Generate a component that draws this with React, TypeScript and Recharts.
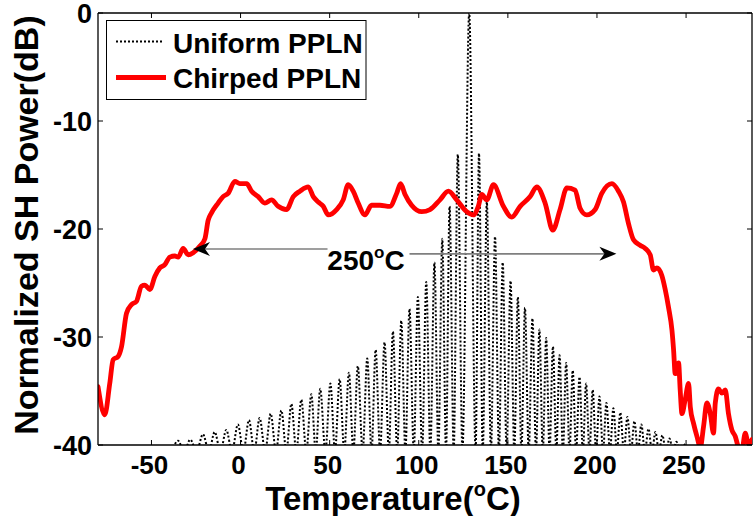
import React from "react";
import { LineChart, Line, XAxis, YAxis, ReferenceLine, ReferenceDot } from "recharts";

const FONT = '"Liberation Sans", Arial, Helvetica, sans-serif';

// plot frame (pixels) – MATLAB style axes box
const W = 753;
const H = 516;
const PLOT_LEFT = 98;
const PLOT_TOP = 13;
const PLOT_RIGHT = 752;
const PLOT_BOTTOM = 445;

const X_DOMAIN = [-80, 287];
const Y_DOMAIN = [-40, 0];
const X_TICKS = [-50, 0, 50, 100, 150, 200, 250];
const Y_TICKS = [-40, -30, -20, -10, 0];

// Uniform PPLN: sinc^2-like lobes, peaks
const UNIFORM_PEAK_T = [
  -35.1, -28.2, -21.1, -14.5, -8.0, -1.5, 4.7, 10.7, 16.9, 22.9, 28.5, 34.1, 39.7, 44.7, 50.4,
  55.6, 60.8, 65.8, 71.1, 75.8, 80.8, 85.5, 90.2, 94.8, 99.5, 104.2, 108.8, 113.2, 117.3, 121.9,
  128.3,
  133.8, 138.2, 142.8, 147.1, 151.5, 155.6, 159.6, 163.8, 167.7, 171.5, 175.3, 179.0, 182.7, 186.4,
  190.2, 193.9, 197.6, 201.4, 205.3, 209.2, 213.1, 217.1, 221.0, 224.9, 228.9, 232.8, 236.7, 240.7,
  244.6, 248.5,
];
const UNIFORM_PEAK_DB = [
  -39.6, -39.5, -39.0, -38.8, -38.6, -38.1, -37.7, -37.5, -37.1, -36.8, -36.2, -35.8, -35.3, -34.8, -34.3,
  -33.9, -33.3, -32.7, -32.0, -31.2, -30.5, -29.5, -28.5, -27.4, -26.3, -24.9, -23.1, -20.9, -17.9, -13.1,
  0,
  -13.0, -17.5, -20.7, -23.1, -24.8, -26.3, -27.3, -28.3, -29.3, -30.1, -30.9, -31.7, -32.4, -33.1,
  -33.7, -34.3, -34.9, -35.5, -36.1, -36.6, -37.0, -37.4, -37.8, -38.1, -38.5, -38.8, -39.1, -39.4,
  -39.7, -39.9,
];
// nulls between the lobes (they fall below the -40 dB floor)
const UNIFORM_NULL_T = [
  -38.5, -31.7, -24.7, -17.8, -11.3, -4.8, 1.6, 7.7, 13.8, 19.9, 25.7, 31.3, 36.9, 42.2, 47.6,
  53.0, 58.2, 63.3, 68.5, 73.5, 78.3, 83.2, 87.9, 92.5, 97.2, 101.9, 106.5, 111.0, 115.3, 119.6,
  124.5, 131.9,
  135.9, 140.5, 145.0, 149.3, 153.6, 157.6, 161.7, 165.8, 169.6, 173.4, 177.2, 180.9, 184.6, 188.3,
  192.1, 195.8, 199.5, 203.4, 207.3, 211.2, 215.1, 219.1, 223.0, 226.9, 230.9, 234.8, 238.7, 242.7,
  246.6, 250.5,
];
const UNIFORM_NULL_DB = -40.6;

// Chirped PPLN
const CHIRPED_T = [
  -80, -76.2, -73.4, -71.5, -68.7, -66.8, -64.0, -61.2, -58.4, -55.6, -53.7, -50.9, -48.1, -45.3, -42.5,
  -39.7, -36.9, -35.0, -32.2, -29.4, -26.6, -22.9, -20.0, -18.2, -16.3, -12.6, -9.8, -7.0, -3.2, -0.4,
  3.4, 6.2, 9.9, 13.6, 17.4, 21.1, 25.8, 29.6, 33.3, 38.0, 40.8, 43.6, 46.4, 49.2, 53.9,
  57.6, 60.4, 63.2, 66.0, 69.8, 73.5, 78.2, 83.8, 87.6, 89.8, 92.3, 96.0, 101.7, 106.3, 111.9,
  116.6, 121.3, 126.9, 130.6, 133.4, 135.4, 138.2, 141.9, 147.5, 152.2, 156.9, 162.5, 166.2, 170.9, 175.2,
  179.3, 183.1, 187.7, 190.6, 194.3, 199.0, 202.7, 208.4, 212.1, 214.9, 217.7, 220.5, 224.2, 227.1, 229.9,
  231.7, 233.6, 236.4, 238.3, 240.1, 242.1, 243.0, 243.9, 245.8, 246.7, 247.7, 249.5, 251.4, 252.4, 254.2,
  256.1, 258.0, 259.8, 261.7, 263.6, 265.4, 266.4, 268.2, 270.1, 272.0, 273.8, 275.7, 277.6, 279.4, 281.3,
  283.2, 285.0, 287.0,
];
const CHIRPED_DB = [
  -34.6, -37.2, -34.3, -32.1, -31.8, -30.9, -27.8, -27.0, -26.7, -25.3, -25.2, -25.6, -24.4, -23.6, -23.3,
  -22.6, -22.5, -22.6, -21.8, -22.4, -22.2, -21.6, -20.9, -19.2, -18.5, -17.6, -17.0, -16.7, -15.6, -15.8,
  -15.8, -16.5, -17.0, -17.6, -17.3, -17.9, -18.2, -17.0, -16.5, -16.1, -17.0, -17.5, -17.9, -18.7, -18.2,
  -17.3, -15.9, -16.5, -17.6, -18.7, -17.8, -17.8, -17.9, -16.7, -15.8, -16.8, -17.8, -18.4, -18.2, -17.3,
  -16.5, -17.3, -18.4, -18.7, -17.9, -16.8, -17.3, -15.9, -17.9, -18.9, -17.9, -17.0, -16.1, -17.6, -20.1,
  -18.2, -16.2, -16.4, -18.1, -18.7, -18.2, -16.7, -15.8, -16.5, -17.5, -19.5, -21.0, -21.5, -21.8, -22.4,
  -23.8, -23.6, -24.3, -25.6, -27.2, -29.4, -31.2, -33.4, -32.4, -34.9, -37.1, -35.8, -34.3, -36.5, -38.0,
  -39.2, -40.2, -38.3, -36.1, -37.1, -38.9, -36.1, -34.8, -35.2, -34.9, -37.1, -38.6, -39.2, -40.2, -40.5,
  -38.9, -39.9, -39.5,
];

// 250 degC bandwidth annotation (data coords)
const ARROW_LEFT = { from: 48.8, to: -26.7, db: -21.85 };
const ARROW_RIGHT = { from: 94.8, to: 210.9, db: -22.3 };
const BW_LABEL = { t: 70.4, db: -22.9 };

const uniformData: { t: number; db: number }[] = [];
UNIFORM_PEAK_T.forEach((t, i) => {
  uniformData.push({ t: UNIFORM_NULL_T[i], db: UNIFORM_NULL_DB });
  uniformData.push({ t, db: UNIFORM_PEAK_DB[i] });
});
uniformData.push({ t: UNIFORM_NULL_T[UNIFORM_NULL_T.length - 1], db: UNIFORM_NULL_DB });

const chirpedData = CHIRPED_T.map((t, i) => ({ t, db: CHIRPED_DB[i] }));

const tickText = { fontFamily: FONT, fontWeight: 700, fontSize: 26, fill: "#000" };

function XTick({ x, payload }: any) {
  return (
    <g>
      <line x1={x} x2={x} y1={PLOT_BOTTOM} y2={PLOT_BOTTOM - 5} stroke="#000" strokeWidth={1} />
      <line x1={x} x2={x} y1={PLOT_TOP} y2={PLOT_TOP + 5} stroke="#000" strokeWidth={1} />
      <text x={x - 2} y={PLOT_BOTTOM + 29} textAnchor="middle" {...tickText}>
        {payload.value}
      </text>
    </g>
  );
}

function YTick({ y, payload }: any) {
  return (
    <g>
      <line x1={PLOT_LEFT} x2={PLOT_LEFT + 5} y1={y} y2={y} stroke="#000" strokeWidth={1} />
      <line x1={PLOT_RIGHT} x2={PLOT_RIGHT - 5} y1={y} y2={y} stroke="#000" strokeWidth={1} />
      <text x={PLOT_LEFT - 6} y={y + 10} textAnchor="end" {...tickText} fontSize={27}>
        {payload.value}
      </text>
    </g>
  );
}

function Arrow({ x1, y1, x2, y2 }: any) {
  const dir = x2 > x1 ? 1 : -1;
  const len = 17;
  const half = 7;
  const notch = 12;
  return (
    <g>
      <line x1={x1} y1={y1} x2={x2 - dir * notch} y2={y2} stroke="#7f7f7f" strokeWidth={1.6} />
      <polygon
        points={`${x2},${y2} ${x2 - dir * len},${y2 - half} ${x2 - dir * notch},${y2} ${x2 - dir * len},${y2 + half}`}
        fill="#000"
      />
    </g>
  );
}

function BandLabel({ cx, cy }: any) {
  return (
    <text x={cx} y={cy + 10} textAnchor="middle" fontFamily={FONT} fontWeight={700} fontSize={28} fill="#000">
      250
      <tspan dy={-12} fontSize={17}>o</tspan>
      <tspan dy={12}>C</tspan>
    </text>
  );
}

export default function App() {
  return (
    <div style={{ position: "absolute", left: 0, top: 0, width: W, height: H, background: "#fff" }}>
      <LineChart
        width={W}
        height={H}
        margin={{ top: PLOT_TOP, right: W - PLOT_RIGHT, bottom: 0, left: 0 }}
      >
        <XAxis
          type="number"
          dataKey="t"
          domain={X_DOMAIN}
          allowDataOverflow
          ticks={X_TICKS}
          interval={0}
          height={H - PLOT_BOTTOM}
          tickLine={false}
          axisLine={{ stroke: "#000", strokeWidth: 1.3 }}
          tick={<XTick />}
        />
        <YAxis
          type="number"
          domain={Y_DOMAIN}
          allowDataOverflow
          ticks={Y_TICKS}
          interval={0}
          width={PLOT_LEFT}
          tickLine={false}
          axisLine={{ stroke: "#000", strokeWidth: 1.3 }}
          tick={<YTick />}
        />
        <ReferenceLine y={0} stroke="#000" strokeWidth={1.3} />
        <ReferenceLine x={X_DOMAIN[1]} stroke="#000" strokeWidth={1.3} />
        <Line
          data={uniformData}
          dataKey="db"
          type="monotone"
          stroke="#000"
          strokeWidth={2}
          strokeDasharray="2 2"
          dot={false}
          activeDot={false}
          isAnimationActive={false}
        />
        <Line
          data={chirpedData}
          dataKey="db"
          type="monotone"
          stroke="#ff0000"
          strokeWidth={4.8}
          strokeLinejoin="round"
          strokeLinecap="round"
          dot={false}
          activeDot={false}
          isAnimationActive={false}
        />
        <ReferenceLine
          segment={[
            { x: ARROW_LEFT.from, y: ARROW_LEFT.db },
            { x: ARROW_LEFT.to, y: ARROW_LEFT.db },
          ]}
          shape={<Arrow />}
        />
        <ReferenceLine
          segment={[
            { x: ARROW_RIGHT.from, y: ARROW_RIGHT.db },
            { x: ARROW_RIGHT.to, y: ARROW_RIGHT.db },
          ]}
          shape={<Arrow />}
        />
        <ReferenceDot x={BW_LABEL.t} y={BW_LABEL.db} r={0} shape={<BandLabel />} />
      </LineChart>

      {/* titles and legend */}
      <svg
        width={W}
        height={H}
        style={{ position: "absolute", left: 0, top: 0, pointerEvents: "none" }}
      >
        <text
          x={393}
          y={510}
          textAnchor="middle"
          fontFamily={FONT}
          fontWeight={700}
          fontSize={33}
          fill="#000"
        >
          Temperature(
          <tspan dy={-14} fontSize={20}>o</tspan>
          <tspan dy={14}>C)</tspan>
        </text>
        <text
          transform="translate(38,225) rotate(-90)"
          textAnchor="middle"
          fontFamily={FONT}
          fontWeight={700}
          fontSize={34}
          fill="#000"
        >
          Normalized SH Power(dB)
        </text>

        <rect x={106.5} y={20.5} width={259.5} height={79} fill="#fff" stroke="#000" strokeWidth={1} />
        <line x1={116} x2={164} y1={41.5} y2={41.5} stroke="#000" strokeWidth={2} strokeDasharray="2 2" />
        <line x1={116} x2={166} y1={77.5} y2={77.5} stroke="#ff0000" strokeWidth={4.8} />
        <text x={173} y={52.5} fontFamily={FONT} fontWeight={700} fontSize={28} fill="#000">
          Uniform PPLN
        </text>
        <text x={173} y={87.5} fontFamily={FONT} fontWeight={700} fontSize={28} fill="#000">
          Chirped PPLN
        </text>
      </svg>
    </div>
  );
}
